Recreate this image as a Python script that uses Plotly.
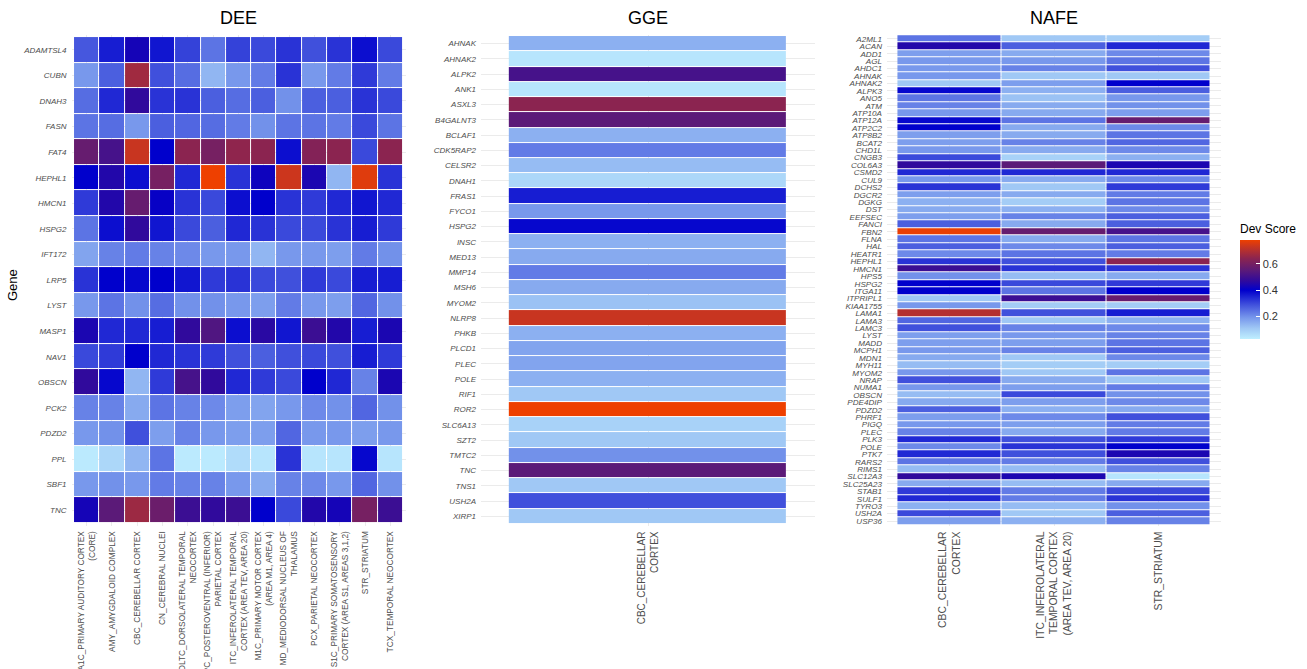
import plotly.graph_objects as go

W, H = 1307, 669

# ---------------- DATA ----------------
dee_genes = ["ADAMTSL4", "CUBN", "DNAH3", "FASN", "FAT4", "HEPHL1", "HMCN1", "HSPG2",
             "IFT172", "LRP5", "LYST", "MASP1", "NAV1", "OBSCN", "PCK2", "PDZD2",
             "PPL", "SBF1", "TNC"]
dee_regions = ["A1C_PRIMARY AUDITORY CORTEX (CORE)", "AMY_AMYGDALOID COMPLEX",
               "CBC_CEREBELLAR CORTEX", "CN_CEREBRAL NUCLEI",
               "DLTC_DORSOLATERAL TEMPORAL NEOCORTEX",
               "IPC_POSTEROVENTRAL (INFERIOR) PARIETAL CORTEX",
               "ITC_INFEROLATERAL TEMPORAL CORTEX (AREA TEV, AREA 20)",
               "M1C_PRIMARY MOTOR CORTEX (AREA M1, AREA 4)",
               "MD_MEDIODORSAL NUCLEUS OF THALAMUS", "PCX_PARIETAL NEOCORTEX",
               "S1C_PRIMARY SOMATOSENSORY CORTEX (AREA S1, AREAS 3,1,2)",
               "STR_STRIATUM", "TCX_TEMPORAL NEOCORTEX"]
dee_region_labels = ["A1C_PRIMARY AUDITORY CORTEX<br>(CORE)", "AMY_AMYGDALOID COMPLEX",
                     "CBC_CEREBELLAR CORTEX", "CN_CEREBRAL NUCLEI",
                     "DLTC_DORSOLATERAL TEMPORAL<br>NEOCORTEX",
                     "IPC_POSTEROVENTRAL (INFERIOR)<br>PARIETAL CORTEX",
                     "ITC_INFEROLATERAL TEMPORAL<br>CORTEX (AREA TEV, AREA 20)",
                     "M1C_PRIMARY MOTOR CORTEX<br>(AREA M1, AREA 4)",
                     "MD_MEDIODORSAL NUCLEUS OF<br>THALAMUS", "PCX_PARIETAL NEOCORTEX",
                     "S1C_PRIMARY SOMATOSENSORY<br>CORTEX (AREA S1, AREAS 3,1,2)",
                     "STR_STRIATUM", "TCX_TEMPORAL NEOCORTEX"]
dee_values = [
    [0.28, 0.36, 0.43, 0.37, 0.31, 0.24, 0.31, 0.30, 0.33, 0.29, 0.33, 0.38, 0.30],
    [0.19, 0.27, 0.67, 0.29, 0.25, 0.14, 0.19, 0.23, 0.33, 0.19, 0.23, 0.32, 0.23],
    [0.25, 0.345, 0.47, 0.33, 0.33, 0.27, 0.25, 0.27, 0.20, 0.27, 0.27, 0.33, 0.30],
    [0.24, 0.25, 0.19, 0.27, 0.26, 0.25, 0.23, 0.20, 0.24, 0.24, 0.23, 0.30, 0.24],
    [0.57, 0.51, 0.73, 0.40, 0.64, 0.60, 0.645, 0.64, 0.38, 0.625, 0.64, 0.30, 0.64],
    [0.40, 0.45, 0.38, 0.60, 0.345, 0.78, 0.33, 0.42, 0.735, 0.44, 0.14, 0.76, 0.33],
    [0.32, 0.45, 0.57, 0.41, 0.33, 0.30, 0.38, 0.40, 0.33, 0.32, 0.345, 0.37, 0.345],
    [0.24, 0.38, 0.47, 0.37, 0.30, 0.27, 0.345, 0.33, 0.30, 0.30, 0.33, 0.36, 0.32],
    [0.17, 0.22, 0.23, 0.22, 0.21, 0.19, 0.19, 0.14, 0.19, 0.19, 0.18, 0.23, 0.20],
    [0.33, 0.40, 0.39, 0.40, 0.37, 0.32, 0.33, 0.30, 0.29, 0.32, 0.30, 0.36, 0.36],
    [0.19, 0.24, 0.20, 0.25, 0.20, 0.20, 0.19, 0.18, 0.23, 0.19, 0.18, 0.26, 0.20],
    [0.44, 0.345, 0.345, 0.36, 0.47, 0.53, 0.38, 0.46, 0.37, 0.49, 0.45, 0.36, 0.44],
    [0.30, 0.32, 0.40, 0.345, 0.33, 0.32, 0.29, 0.27, 0.29, 0.30, 0.29, 0.36, 0.32],
    [0.47, 0.39, 0.14, 0.32, 0.51, 0.47, 0.345, 0.32, 0.30, 0.40, 0.345, 0.22, 0.44],
    [0.22, 0.22, 0.16, 0.24, 0.22, 0.21, 0.18, 0.17, 0.19, 0.21, 0.20, 0.26, 0.20],
    [0.19, 0.20, 0.29, 0.18, 0.22, 0.19, 0.18, 0.18, 0.26, 0.19, 0.19, 0.18, 0.19],
    [0.04, 0.08, 0.14, 0.24, 0.04, 0.04, 0.07, 0.05, 0.33, 0.05, 0.05, 0.39, 0.05],
    [0.19, 0.20, 0.19, 0.23, 0.22, 0.22, 0.19, 0.16, 0.22, 0.21, 0.19, 0.26, 0.20],
    [0.43, 0.55, 0.665, 0.58, 0.49, 0.47, 0.49, 0.40, 0.30, 0.45, 0.43, 0.60, 0.49],
]

gge_genes = ["AHNAK", "AHNAK2", "ALPK2", "ANK1", "ASXL3", "B4GALNT3", "BCLAF1", "CDK5RAP2",
             "CELSR2", "DNAH1", "FRAS1", "FYCO1", "HSPG2", "INSC", "MED13", "MMP14",
             "MSH6", "MYOM2", "NLRP8", "PHKB", "PLCD1", "PLEC", "POLE", "RIF1", "ROR2",
             "SLC6A13", "SZT2", "TMTC2", "TNC", "TNS1", "USH2A", "XIRP1"]
gge_regions = ["CBC_CEREBELLAR CORTEX"]
gge_region_labels = ["CBC_CEREBELLAR<br>CORTEX"]
gge_values = [0.15, 0.05, 0.51, 0.05, 0.64, 0.55, 0.15, 0.23, 0.13, 0.08, 0.36, 0.19,
              0.39, 0.15, 0.16, 0.23, 0.16, 0.12, 0.73, 0.15, 0.17, 0.17, 0.15, 0.11,
              0.78, 0.09, 0.11, 0.20, 0.55, 0.11, 0.29, 0.11]

nafe_genes = ["A2ML1", "ACAN", "ADD1", "AGL", "AHDC1", "AHNAK", "AHNAK2", "ALPK3", "ANO5",
              "ATM", "ATP10A", "ATP12A", "ATP2C2", "ATP8B2", "BCAT2", "CHD1L", "CNGB3",
              "COL6A3", "CSMD2", "CUL9", "DCHS2", "DGCR2", "DGKG", "DST", "EEFSEC", "FANCI",
              "FBN2", "FLNA", "HAL", "HEATR1", "HEPHL1", "HMCN1", "HPS5", "HSPG2", "ITGA11",
              "ITPRIPL1", "KIAA1755", "LAMA1", "LAMA3", "LAMC3", "LYST", "MADD", "MCPH1",
              "MDN1", "MYH11", "MYOM2", "NRAP", "NUMA1", "OBSCN", "PDE4DIP", "PDZD2",
              "PHRF1", "PIGQ", "PLEC", "PLK3", "POLE", "PTK7", "RARS2", "RIMS1", "SLC12A3",
              "SLC25A23", "STAB1", "SULF1", "TYRO3", "USH2A", "USP36"]
nafe_regions = ["CBC_CEREBELLAR CORTEX",
                "ITC_INFEROLATERAL TEMPORAL CORTEX (AREA TEV, AREA 20)",
                "STR_STRIATUM"]
nafe_region_labels = ["CBC_CEREBELLAR<br>CORTEX",
                      "ITC_INFEROLATERAL<br>TEMPORAL CORTEX<br>(AREA TEV, AREA 20)",
                      "STR_STRIATUM"]
nafe_values = [
    [0.24, 0.11, 0.10], [0.45, 0.27, 0.345], [0.18, 0.16, 0.21], [0.19, 0.19, 0.24],
    [0.19, 0.22, 0.29], [0.19, 0.11, 0.11], [0.11, 0.18, 0.40], [0.39, 0.15, 0.27],
    [0.24, 0.12, 0.19], [0.22, 0.16, 0.20], [0.19, 0.16, 0.18], [0.39, 0.24, 0.57],
    [0.40, 0.16, 0.21], [0.18, 0.16, 0.24], [0.18, 0.22, 0.26], [0.19, 0.16, 0.21],
    [0.30, 0.09, 0.15], [0.47, 0.55, 0.44], [0.345, 0.345, 0.345], [0.19, 0.16, 0.21],
    [0.33, 0.11, 0.32], [0.18, 0.16, 0.23], [0.15, 0.10, 0.24], [0.16, 0.15, 0.21],
    [0.18, 0.22, 0.27], [0.27, 0.16, 0.27], [0.775, 0.57, 0.51], [0.24, 0.16, 0.24],
    [0.27, 0.21, 0.27], [0.21, 0.24, 0.23], [0.33, 0.29, 0.64], [0.49, 0.33, 0.33],
    [0.20, 0.13, 0.16], [0.40, 0.30, 0.32], [0.40, 0.24, 0.40], [0.11, 0.49, 0.57],
    [0.19, 0.10, 0.10], [0.70, 0.29, 0.36], [0.26, 0.11, 0.15], [0.29, 0.22, 0.21],
    [0.18, 0.19, 0.22], [0.18, 0.18, 0.24], [0.19, 0.22, 0.27], [0.16, 0.11, 0.21],
    [0.13, 0.10, 0.10], [0.19, 0.11, 0.24], [0.29, 0.16, 0.11], [0.19, 0.18, 0.23],
    [0.13, 0.30, 0.20], [0.16, 0.18, 0.21], [0.27, 0.15, 0.16], [0.18, 0.21, 0.29],
    [0.19, 0.18, 0.23], [0.22, 0.16, 0.23], [0.345, 0.29, 0.32], [0.21, 0.33, 0.40],
    [0.345, 0.29, 0.44], [0.24, 0.23, 0.29], [0.13, 0.13, 0.22], [0.47, 0.44, 0.05],
    [0.16, 0.13, 0.16], [0.32, 0.23, 0.30], [0.345, 0.23, 0.33], [0.15, 0.13, 0.20],
    [0.30, 0.11, 0.27], [0.18, 0.15, 0.22],
]

panel_titles = ["DEE", "GGE", "NAFE"]
cbar_ticks = [0.2, 0.4, 0.6]
zmin, zmax = 0.03, 0.78

# ---------------- STYLE ----------------
colorscale = [
    [0.0, "#bfefff"], [0.107, "#a0c8f5"], [0.213, "#7898ec"], [0.347, "#4050dc"],
    [0.493, "#0000cc"], [0.587, "#300a9c"], [0.693, "#5b1a78"], [0.813, "#8b2450"],
    [0.933, "#c83520"], [1.0, "#ee4000"],
]
FONT = "Arial, Liberation Sans, sans-serif"
GRID = "#ebebeb"
TXT = "#4d4d4d"

def px_x(p):
    return p / W

def px_y(p):
    return 1 - p / H

plot_top, plot_bot = 34.5, 525.5
ydom = [px_y(plot_bot), px_y(plot_top)]
xdoms = [[px_x(71.5), px_x(405.5)], [px_x(481), px_x(815)], [px_x(887), px_x(1221)]]

fig = go.Figure()

panels = [
    (dee_genes, dee_regions, dee_region_labels, dee_values, 8, 8.3),
    (gge_genes, gge_regions, gge_region_labels, [[v] for v in gge_values], 8, 10),
    (nafe_genes, nafe_regions, nafe_region_labels, nafe_values, 8.1, 10.4),
]

layout_axes = {}
for i, (genes, regions, rlabels, vals, yfs, xfs) in enumerate(panels):
    k = "" if i == 0 else str(i + 1)
    fig.add_trace(go.Heatmap(
        z=vals, x=regions, y=genes, coloraxis="coloraxis",
        xgap=1, ygap=1, xaxis="x" + k, yaxis="y" + k,
    ))
    layout_axes["xaxis" + k] = dict(
        domain=xdoms[i], anchor="y" + k, type="category",
        categoryorder="array", categoryarray=regions,
        range=[-0.6, len(regions) - 0.4],
        tickmode="array", tickvals=regions, ticktext=rlabels,
        tickangle=-90, tickfont=dict(family=FONT, size=xfs, color=TXT),
        showgrid=True, gridcolor=GRID, gridwidth=1, zeroline=False,
        showline=False, ticks="", ticklabelstandoff=3, automargin=False,
    )
    layout_axes["yaxis" + k] = dict(
        domain=ydom, anchor="x" + k, type="category",
        categoryorder="array", categoryarray=genes,
        range=[len(genes) - 0.4, -0.6],
        tickmode="array", tickvals=genes, ticktext=genes,
        tickfont=dict(family=FONT, size=yfs, color=TXT, style="italic"),
        showgrid=True, gridcolor=GRID, gridwidth=1, zeroline=False,
        showline=False, ticks="", ticklabelstandoff=4, automargin=False,
    )

fig.update_layout(**layout_axes)

annotations = []
for i, t in enumerate(panel_titles):
    cx = (xdoms[i][0] + xdoms[i][1]) / 2
    annotations.append(dict(
        text=t, x=cx, y=px_y(18), xref="paper", yref="paper",
        xanchor="center", yanchor="middle", showarrow=False,
        font=dict(family=FONT, size=18, color="black"),
    ))
annotations.append(dict(
    text="Gene", x=px_x(12), y=px_y(285), xref="paper", yref="paper",
    xanchor="center", yanchor="middle", showarrow=False, textangle=-90,
    font=dict(family=FONT, size=13, color="black"),
))

fig.update_layout(
    width=W, height=H,
    margin=dict(l=0, r=0, t=0, b=0),
    paper_bgcolor="white", plot_bgcolor="white",
    showlegend=False,
    annotations=annotations,
    coloraxis=dict(
        colorscale=colorscale, cmin=zmin, cmax=zmax,
        colorbar=dict(
            title=dict(text="Dev Score", side="top",
                       font=dict(family=FONT, size=12, color="black")),
            thickness=20, thicknessmode="pixels",
            len=118, lenmode="pixels",
            x=px_x(1240), xanchor="left", xpad=0,
            y=px_y(339), yanchor="bottom", ypad=0,
            outlinewidth=0,
            tickvals=cbar_ticks, ticktext=[str(v) for v in cbar_ticks],
            ticks="inside", tickcolor="white", ticklen=4,
            tickfont=dict(family=FONT, size=11, color="#333333"),
        ),
    ),
)

fig.write_html(
    "out.html",
    config={"displayModeBar": False},
    post_script="document.body.style.margin='0px';document.body.style.padding='0px';"
                "document.body.style.overflow='hidden';",
)
